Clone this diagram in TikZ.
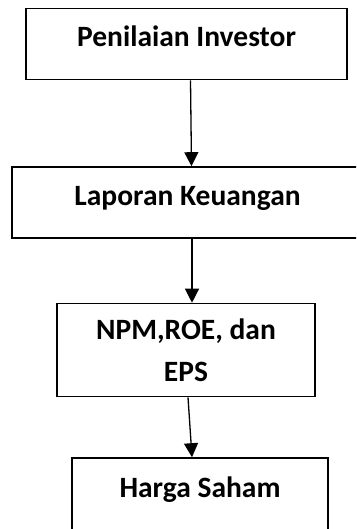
\documentclass[tikz,border=0pt]{standalone}
\usepackage{fontspec}
\setmainfont{Carlito}
\usetikzlibrary{arrows.meta}

\tikzset{
  box/.style={draw, line width=1.6pt, inner sep=0pt, font=\fontsize{29.5}{42}\selectfont\bfseries},
  onebox/.style={box, minimum height=71pt, text height=20pt, text depth=14pt},
  flow/.style={-{Triangle[width=14pt,length=14pt]}, line width=1.3pt},
}

\begin{document}
\begin{tikzpicture}[x=1pt, y=-1pt]
    \clip (0,0) rectangle (356,529);

    % boxes
    \node[onebox, minimum width=321pt] (inv) at (186.5,44) {Penilaian Investor};
    \node[onebox, minimum width=351pt] (lap) at (187.5,202.5) {Laporan Keuangan};
    \node[box, minimum width=258pt, minimum height=93pt, align=center] (npm) at (186,350) {NPM,ROE, dan\\EPS};
    \node[onebox, minimum width=256pt, minimum height=76pt, text depth=18pt] (harga) at (200,496) {Harga Saham};

    % arrows
    \draw[flow] ([xshift=4pt]inv.south) -- ([xshift=4pt]lap.north);
    \draw[flow] ([xshift=4.5pt]lap.south) -- ([xshift=6pt]npm.north);
    \draw[flow] ([xshift=2pt]npm.south) -- ([xshift=-8pt]harga.north);
\end{tikzpicture}
\end{document}
